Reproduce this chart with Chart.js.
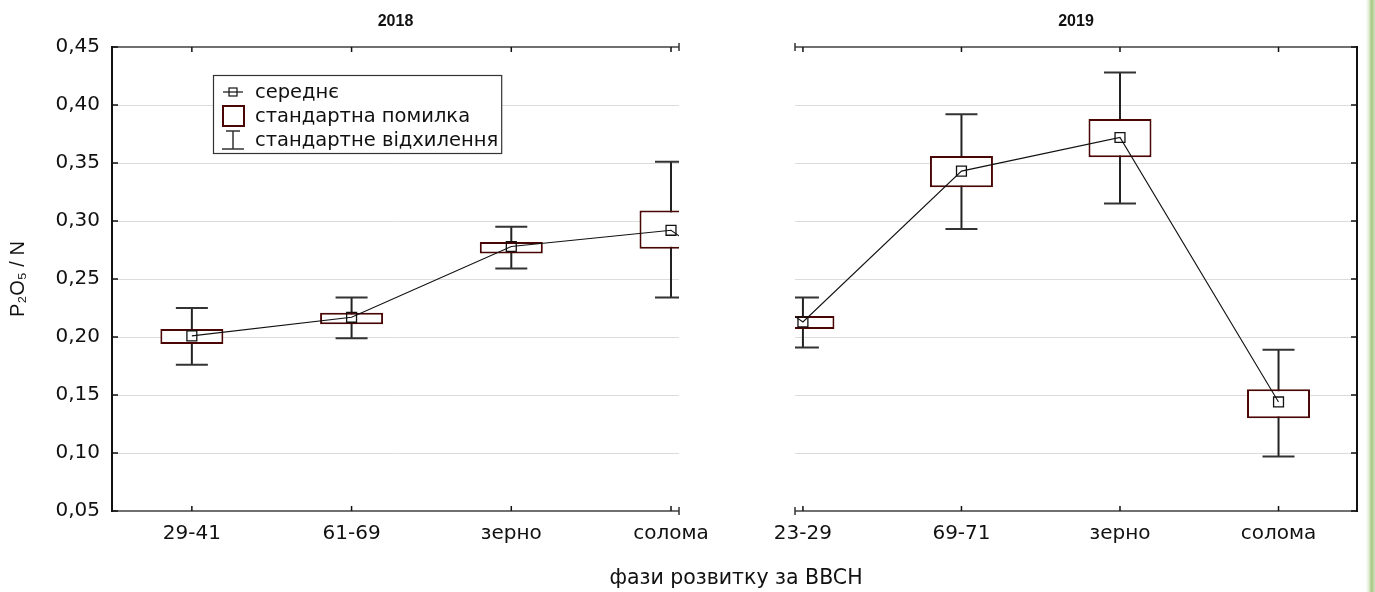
<!DOCTYPE html>
<html><head><meta charset="utf-8">
<script src="https://cdn.jsdelivr.net/npm/chart.js@4.4.1/dist/chart.umd.min.js"></script>
<style>
html,body{margin:0;padding:0;background:#fff;}
#wrap{position:relative;width:1375px;height:592px;overflow:hidden;background:#fff;}
#c1{position:absolute;left:0;top:0;}
#c2{position:absolute;left:740px;top:0;}
#xt{position:absolute;left:436px;width:600px;top:565px;line-height:24px;text-align:center;font-family:'DejaVu Sans',sans-serif;font-size:20.5px;color:#111;}
#green{position:absolute;left:1366px;top:0;width:9px;height:592px;background:linear-gradient(to right,rgba(255,255,255,0),#dbe9c8 35%,#a9c887 60%,#cfe2b8 100%);}
</style></head>
<body><div id="wrap">
<canvas id="c1" width="740" height="592"></canvas>
<canvas id="c2" width="635" height="592"></canvas>
<div id="xt">фази розвитку за BBCH</div>
<div id="green"></div>
</div>
<script>
// ---- data ----
const cats2018 = ['29-41', '61-69', 'зерно', 'солома'];
const mean2018 = [0.201, 0.217, 0.278, 0.292];
const seLow2018 = [0.194, 0.211, 0.272, 0.276];
const seHigh2018 = [0.207, 0.221, 0.282, 0.309];
const sdLow2018 = [0.176, 0.199, 0.259, 0.234];
const sdHigh2018 = [0.225, 0.234, 0.295, 0.351];

const cats2019 = ['23-29', '69-71', 'зерно', 'солома'];
const mean2019 = [0.213, 0.343, 0.372, 0.144];
const seLow2019 = [0.207, 0.329, 0.355, 0.130];
const seHigh2019 = [0.218, 0.356, 0.388, 0.155];
const sdLow2019 = [0.191, 0.293, 0.315, 0.097];
const sdHigh2019 = [0.234, 0.392, 0.428, 0.189];

const yTicks = [0.05, 0.10, 0.15, 0.20, 0.25, 0.30, 0.35, 0.40, 0.45];
const legendLabels = ['середнє', 'стандартна помилка', 'стандартне відхилення'];
const panelTitles = ['2018', '2019'];
const yTitle = 'P₂O₅ / N';
const panelGap = 0.83; // category units between the last 2018 phase and the first 2019 phase

const FONT = "'DejaVu Sans', sans-serif";
const TFONT = "'Liberation Sans', Arial, sans-serif";
const BOX_COLOR = '#4a0505';

const framePlugin = {
  id: 'frame',
  afterDraw(chart, args, o) {
    const {ctx, chartArea: a} = chart;
    const x = chart.scales.x, y = chart.scales.y;
    ctx.save();
    ctx.lineCap = 'butt';
    ctx.strokeStyle = '#707070'; ctx.lineWidth = 2;
    ctx.beginPath();
    ctx.moveTo(a.left, a.top); ctx.lineTo(a.right, a.top);
    ctx.moveTo(a.left, a.bottom); ctx.lineTo(a.right, a.bottom);
    ctx.stroke();
    const ax = o.axisSide === 'left' ? a.left : a.right;
    ctx.strokeStyle = '#111'; ctx.lineWidth = 2;
    ctx.beginPath(); ctx.moveTo(ax, a.top - 1); ctx.lineTo(ax, a.bottom + 1); ctx.stroke();
    const ex = o.axisSide === 'left' ? a.right : a.left;
    ctx.strokeStyle = '#333'; ctx.lineWidth = 1.5;
    ctx.beginPath();
    ctx.moveTo(ex, a.top - 4); ctx.lineTo(ex, a.top + 4);
    ctx.moveTo(ex, a.bottom - 4); ctx.lineTo(ex, a.bottom + 4);
    ctx.stroke();
    const dir = o.axisSide === 'left' ? 1 : -1;
    ctx.strokeStyle = '#111'; ctx.lineWidth = 1.5;
    ctx.beginPath();
    y.ticks.forEach(t => { const py = y.getPixelForValue(t.value); ctx.moveTo(ax, py); ctx.lineTo(ax + dir * 6, py); });
    x.ticks.forEach(t => { const px = x.getPixelForValue(t.value); ctx.moveTo(px, a.top); ctx.lineTo(px, a.top + 5); ctx.moveTo(px, a.bottom); ctx.lineTo(px, a.bottom - 5); });
    ctx.stroke();
    ctx.restore();
  }
};

const legendPlugin = {
  id: 'boxLegend',
  afterDraw(chart, args, o) {
    if (!o.show) return;
    const {ctx, chartArea: a} = chart;
    const left = a.left + 101, top = a.top + 28, h = 78;
    ctx.save();
    ctx.font = '19.5px ' + FONT;
    let maxW = 0;
    legendLabels.forEach(l => { maxW = Math.max(maxW, ctx.measureText(l).width); });
    const w = Math.max(285, 42 + maxW + 3);
    ctx.fillStyle = '#fff'; ctx.fillRect(left, top, w, h);
    ctx.strokeStyle = '#333'; ctx.lineWidth = 1.2; ctx.strokeRect(left + 0.5, top + 0.5, w, h);
    const cx = left + 20;
    const rows = [top + 17, top + 41, top + 65];
    ctx.strokeStyle = '#111'; ctx.lineWidth = 1.2;
    ctx.beginPath(); ctx.moveTo(cx - 10, rows[0]); ctx.lineTo(cx + 10, rows[0]); ctx.stroke();
    ctx.strokeRect(cx - 4, rows[0] - 4, 8, 8);
    ctx.strokeStyle = BOX_COLOR; ctx.lineWidth = 2;
    ctx.strokeRect(cx - 10, rows[1] - 10, 21, 20);
    ctx.strokeStyle = '#333'; ctx.lineWidth = 1.5;
    ctx.beginPath();
    ctx.moveTo(cx, rows[2] - 9); ctx.lineTo(cx, rows[2] + 9);
    ctx.moveTo(cx - 7, rows[2] - 9); ctx.lineTo(cx + 7, rows[2] - 9);
    ctx.moveTo(cx - 11, rows[2] + 9); ctx.lineTo(cx + 11, rows[2] + 9);
    ctx.stroke();
    ctx.fillStyle = '#111'; ctx.textBaseline = 'middle'; ctx.textAlign = 'left';
    legendLabels.forEach((l, i) => ctx.fillText(l, left + 42, rows[i] + 1));
    ctx.restore();
  }
};

function makeChart(canvas, cats, mean, seLo, seHi, sdLo, sdHi, opt) {
  const lineData = mean.map((v, i) => ({x: i, y: v}));
  if (opt.bridgeAfter) lineData.push(opt.bridgeAfter);
  if (opt.bridgeBefore) lineData.unshift(opt.bridgeBefore);
  const caps = sdHi.map((v, i) => ({x: i, y: v})).concat(sdLo.map((v, i) => ({x: i, y: v})));
  return new Chart(canvas, {
    type: 'bar',
    data: {
      datasets: [
        { type: 'bar', label: 'sd', data: sdLo.map((lo, i) => ({x: i, y: [lo, sdHi[i]]})),
          backgroundColor: '#222', borderWidth: 0, grouped: false, maxBarThickness: 2, order: 5, clip: 0 },
        { type: 'bar', label: 'se', data: seLo.map((lo, i) => ({x: i, y: [lo, seHi[i]]})),
          backgroundColor: '#fff', borderColor: BOX_COLOR, borderWidth: 2, borderSkipped: false,
          grouped: false, maxBarThickness: 63, order: 4, clip: 0 },
        { type: 'line', label: 'caps', data: caps, showLine: false, pointStyle: 'line', pointRadius: 16,
          pointBorderColor: '#333', pointBorderWidth: 2, order: 3, clip: 0 },
        { type: 'line', label: 'mean', data: lineData, borderColor: '#111', borderWidth: 1.1, tension: 0,
          pointStyle: 'rect', pointRadius: c => (c.raw && c.raw.bridge) ? 0 : 7,
          pointBackgroundColor: 'rgba(0,0,0,0)', pointBorderColor: '#111', pointBorderWidth: 1.3, order: 1, clip: 0 }
      ]
    },
    options: {
      responsive: false, animation: false, events: [],
      layout: { padding: opt.padding },
      plugins: {
        legend: { display: false }, tooltip: { enabled: false },
        title: { display: true, text: opt.title, fullSize: false, color: '#111',
          font: { family: TFONT, size: 16, weight: 'bold' }, padding: { top: 12, bottom: 15.8 } },
        frame: { axisSide: opt.axisSide },
        boxLegend: { show: opt.legend }
      },
      scales: {
        x: {
          type: 'linear', min: opt.xmin, max: opt.xmax, offset: false,
          afterBuildTicks: s => { s.ticks = cats.map((c, i) => ({value: i})); },
          ticks: { callback: v => cats[v], font: { family: FONT, size: 20 }, color: '#111', padding: 11, maxRotation: 0, autoSkip: false },
          grid: { display: false, drawTicks: false, offset: false },
          border: { display: false },
          afterFit: s => { s.height = 81; }
        },
        y: {
          type: 'linear', min: 0.05, max: 0.45,
          afterBuildTicks: s => { s.ticks = yTicks.map(v => ({value: v})); },
          ticks: { display: opt.showY, callback: v => Number(v).toFixed(2).replace('.', ','),
            font: { family: FONT, size: 20 }, color: '#111', padding: 12 },
          grid: { color: '#dcdcdc', lineWidth: 1, drawTicks: false },
          border: { display: false },
          title: { display: opt.showY, text: yTitle, font: { family: TFONT, size: 20 }, color: '#111', padding: { top: 6, bottom: 0 } },
          afterFit: s => { s.width = opt.yWidth; }
        }
      }
    },
    plugins: [framePlugin, legendPlugin]
  });
}

makeChart(document.getElementById('c1'), cats2018, mean2018, seLow2018, seHigh2018, sdLow2018, sdHigh2018, {
  title: panelTitles[0], xmin: -0.5, xmax: 3.05, yWidth: 112, showY: true, axisSide: 'left', legend: true,
  padding: { left: 0, right: 61, top: 0, bottom: 0 },
  bridgeAfter: { x: cats2018.length - 1 + panelGap, y: mean2019[0], bridge: true }
});
makeChart(document.getElementById('c2'), cats2019, mean2019, seLow2019, seHigh2019, sdLow2019, sdHigh2019, {
  title: panelTitles[1], xmin: -0.05, xmax: 3.495, yWidth: 55, showY: false, axisSide: 'right', legend: false,
  padding: { left: 0, right: 14, top: 0, bottom: 0 },
  bridgeBefore: { x: -panelGap, y: mean2018[3], bridge: true }
});
</script>
</body></html>
